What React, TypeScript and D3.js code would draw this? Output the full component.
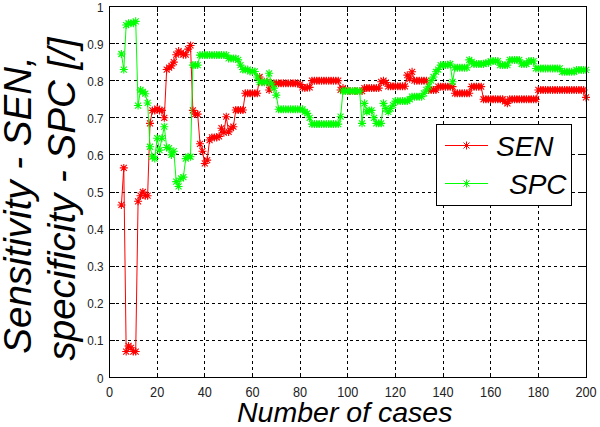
import React from 'react';
import * as d3 from 'd3';

// first case number of both series
const caseStart = 5;

// Sensitivity (SEN), cases 5..200
const senValues = [
  0.465, 0.565, 0.07, 0.085, 0.08, 0.07, 0.07, 0.475, 0.49, 0.5,
  0.49, 0.49, 0.685, 0.72, 0.72, 0.725, 0.72, 0.72, 0.70, 0.83,
  0.835, 0.84, 0.85, 0.87, 0.88, 0.875, 0.87, 0.87, 0.885, 0.895,
  0.72, 0.71, 0.71, 0.63, 0.61, 0.577, 0.586, 0.64, 0.647, 0.647,
  0.647, 0.65, 0.672, 0.66, 0.703, 0.662, 0.672, 0.676, 0.721, 0.721,
  0.721, 0.721, 0.766, 0.766, 0.766, 0.766, 0.766, 0.766, 0.81, 0.797,
  0.797, 0.797, 0.775, 0.793, 0.793, 0.793, 0.793, 0.793, 0.793, 0.793,
  0.793, 0.793, 0.793, 0.793, 0.793, 0.79, 0.782, 0.78, 0.782, 0.782,
  0.80, 0.80, 0.80, 0.80, 0.80, 0.80, 0.80, 0.80, 0.80, 0.80,
  0.80, 0.80, 0.775, 0.78, 0.775, 0.772, 0.772, 0.772, 0.772, 0.772,
  0.772, 0.772, 0.78, 0.78, 0.78, 0.78, 0.78, 0.78, 0.78, 0.797,
  0.80, 0.795, 0.785, 0.785, 0.785, 0.785, 0.785, 0.785, 0.785, 0.785,
  0.815, 0.805, 0.824, 0.80, 0.80, 0.80, 0.80, 0.80, 0.80, 0.775,
  0.775, 0.775, 0.775, 0.784, 0.784, 0.784, 0.784, 0.784, 0.784, 0.784,
  0.766, 0.766, 0.766, 0.766, 0.766, 0.766, 0.766, 0.784, 0.784, 0.784,
  0.784, 0.784, 0.75, 0.75, 0.75, 0.75, 0.75, 0.75, 0.75, 0.75,
  0.75, 0.744, 0.739, 0.75, 0.75, 0.75, 0.75, 0.75, 0.75, 0.75,
  0.75, 0.75, 0.75, 0.75, 0.75, 0.775, 0.775, 0.775, 0.775, 0.775,
  0.775, 0.775, 0.775, 0.775, 0.775, 0.775, 0.775, 0.775, 0.775, 0.775,
  0.775, 0.775, 0.775, 0.775, 0.775, 0.755,
];

// Specificity (SPC), cases 5..200
const spcValues = [
  0.872, 0.83, 0.95, 0.955, 0.955, 0.955, 0.96, 0.733, 0.775, 0.77,
  0.765, 0.74, 0.622, 0.595, 0.59, 0.645, 0.613, 0.645, 0.676, 0.62,
  0.618, 0.60, 0.61, 0.528, 0.515, 0.537, 0.54, 0.59, 0.595, 0.595,
  0.842, 0.842, 0.842, 0.869, 0.869, 0.869, 0.869, 0.869, 0.869, 0.869,
  0.869, 0.869, 0.869, 0.869, 0.869, 0.86, 0.86, 0.86, 0.86, 0.856,
  0.842, 0.83, 0.83, 0.83, 0.825, 0.825, 0.825, 0.81, 0.796, 0.796,
  0.796, 0.796, 0.82, 0.793, 0.78, 0.761, 0.723, 0.723, 0.723, 0.723,
  0.723, 0.723, 0.723, 0.723, 0.723, 0.723, 0.723, 0.716, 0.712, 0.70,
  0.683, 0.683, 0.683, 0.683, 0.683, 0.683, 0.683, 0.683, 0.683, 0.683,
  0.683, 0.683, 0.703, 0.772, 0.772, 0.772, 0.772, 0.772, 0.772, 0.772,
  0.772, 0.685, 0.739, 0.716, 0.72, 0.72, 0.70, 0.685, 0.685, 0.685,
  0.739, 0.725, 0.716, 0.725, 0.734, 0.745, 0.745, 0.745, 0.745, 0.745,
  0.745, 0.75, 0.757, 0.757, 0.757, 0.757, 0.757, 0.766, 0.775, 0.785,
  0.80, 0.81, 0.824, 0.83, 0.842, 0.842, 0.842, 0.842, 0.845, 0.797,
  0.835, 0.835, 0.835, 0.835, 0.835, 0.835, 0.856, 0.851, 0.845, 0.845,
  0.845, 0.845, 0.845, 0.848, 0.848, 0.853, 0.853, 0.853, 0.853, 0.842,
  0.842, 0.842, 0.842, 0.856, 0.856, 0.856, 0.856, 0.856, 0.845, 0.845,
  0.845, 0.853, 0.853, 0.853, 0.833, 0.833, 0.833, 0.833, 0.833, 0.833,
  0.833, 0.833, 0.833, 0.833, 0.833, 0.824, 0.824, 0.824, 0.824, 0.824,
  0.824, 0.829, 0.829, 0.829, 0.829, 0.829,
];

const xTicks = [0, 20, 40, 60, 80, 100, 120, 140, 160, 180, 200];
const yTicks = [0, 0.1, 0.2, 0.3, 0.4, 0.5, 0.6, 0.7, 0.8, 0.9, 1];
const yTickLabels = ['0', '0.1', '0.2', '0.3', '0.4', '0.5', '0.6', '0.7', '0.8', '0.9', '1'];
const seriesNames = ['SEN', 'SPC'];
const seriesColors = ['#ff0000', '#00ff00'];
const xLabel = 'Number of cases';
const yLabelLines = ['Sensitivity - SEN,', 'specificity - SPC [/]'];

const FONT = "'Liberation Sans', Arial, Helvetica, sans-serif";
const STAR = 'M-4,0H4M0,-4V4M-3,-3L3,3M-3,3L3,-3';

export default function App() {
  const W = 600;
  const H = 427;
  const left = 109.5;
  const right = 586;
  const top = 6.5;
  const bottom = 377.5;

  const x = d3.scaleLinear().domain([0, 200]).range([left, right]);
  const y = d3.scaleLinear().domain([0, 1]).range([bottom, top]);

  const series = [senValues, spcValues];
  const lineGen = d3
    .line<number>()
    .x((_, i) => x(caseStart + i))
    .y((d) => y(d));

  return (
    <svg
      width={W}
      height={H}
      viewBox={`0 0 ${W} ${H}`}
      style={{ position: 'absolute', left: 0, top: 0, background: '#fff' }}
    >
      <rect x={0} y={0} width={W} height={H} fill="#fff" />
      {/* grid */}
      <g stroke="#000" strokeWidth={1} strokeDasharray="3,3" shapeRendering="crispEdges">
        {xTicks.slice(1, -1).map((t) => (
          <line key={'gx' + t} x1={x(t)} x2={x(t)} y1={top} y2={bottom} />
        ))}
        {yTicks.slice(1, -1).map((t) => (
          <line key={'gy' + t} x1={left} x2={right} y1={y(t)} y2={y(t)} />
        ))}
      </g>
      {/* inner ticks */}
      <g stroke="#000" strokeWidth={1} shapeRendering="crispEdges">
        {xTicks.map((t) => (
          <g key={'tx' + t}>
            <line x1={x(t)} x2={x(t)} y1={bottom} y2={bottom - 5} />
            <line x1={x(t)} x2={x(t)} y1={top} y2={top + 5} />
          </g>
        ))}
        {yTicks.map((t) => (
          <g key={'ty' + t}>
            <line x1={left} x2={left + 5} y1={y(t)} y2={y(t)} />
            <line x1={right} x2={right - 5} y1={y(t)} y2={y(t)} />
          </g>
        ))}
      </g>
      {/* data */}
      {series.map((vals, si) => (
        <g key={seriesNames[si]}>
          <path d={lineGen(vals) || ''} fill="none" stroke={seriesColors[si]} strokeWidth={1} />
          <g stroke={seriesColors[si]} strokeWidth={1.1} fill="none">
            {vals.map((v, i) => (
              <path key={i} d={STAR} transform={`translate(${x(caseStart + i)},${y(v)})`} />
            ))}
          </g>
        </g>
      ))}
      {/* axes box */}
      <rect
        x={left}
        y={top}
        width={right - left}
        height={bottom - top}
        fill="none"
        stroke="#000"
        strokeWidth={1}
        shapeRendering="crispEdges"
      />
      {/* x tick labels */}
      <g fontFamily={FONT} fontSize={15.5} fill="#222" textAnchor="middle">
        {xTicks.map((t) => (
          <text key={'lx' + t} transform={`translate(${x(t)},${bottom + 19}) scale(0.82,1)`}>
            {t}
          </text>
        ))}
      </g>
      {/* y tick labels */}
      <g fontFamily={FONT} fontSize={13.5} fill="#222" textAnchor="end">
        {yTicks.map((t, i) => (
          <text key={'ly' + t} transform={`translate(${left - 6},${y(t) + 5}) scale(0.87,1)`}>
            {yTickLabels[i]}
          </text>
        ))}
      </g>
      {/* axis labels */}
      <text
        x={(left + right) / 2 - 3}
        y={422}
        fontFamily={FONT}
        fontStyle="italic"
        fontSize={28.5}
        textAnchor="middle"
        fill="#000"
      >
        {xLabel}
      </text>
      <text
        transform="translate(31,205) rotate(-90)"
        fontFamily={FONT}
        fontStyle="italic"
        fontSize={38.5}
        textAnchor="middle"
        fill="#000"
      >
        {yLabelLines[0]}
      </text>
      <text
        transform="translate(75,199) rotate(-90)"
        fontFamily={FONT}
        fontStyle="italic"
        fontSize={38.5}
        textAnchor="middle"
        fill="#000"
      >
        {yLabelLines[1]}
      </text>
      {/* legend */}
      <g>
        <rect x={436.5} y={124.5} width={134.5} height={81} fill="#fff" stroke="#000" strokeWidth={1} shapeRendering="crispEdges" />
        {seriesNames.map((name, si) => {
          const ly = si === 0 ? 145.5 : 183.5;
          return (
            <g key={'lg' + name}>
              <line x1={445} x2={488} y1={ly} y2={ly} stroke={seriesColors[si]} strokeWidth={1} />
              <path d={STAR} transform={`translate(466.5,${ly})`} stroke={seriesColors[si]} fill="none" />
              <text
                x={si === 0 ? 496 : 509}
                y={ly + 10}
                fontFamily={FONT}
                fontStyle="italic"
                fontSize={28}
                fill="#000"
              >
                {name}
              </text>
            </g>
          );
        })}
      </g>
    </svg>
  );
}
